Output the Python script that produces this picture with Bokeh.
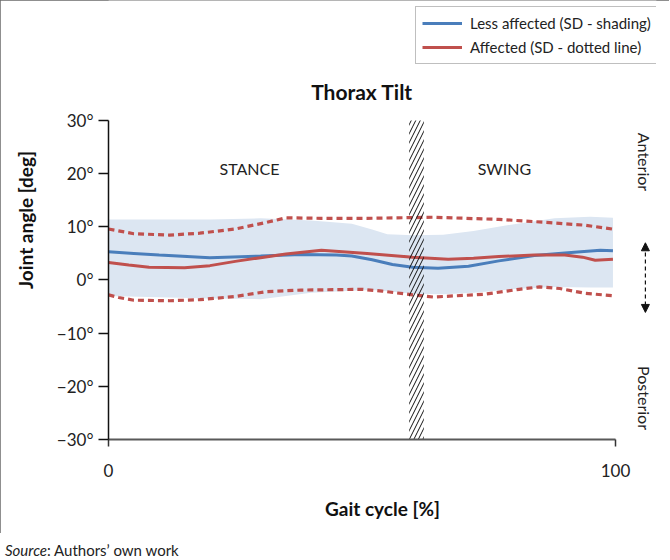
import math
from bokeh.plotting import figure
from bokeh.models import (FixedTicker, Label, Legend, LegendItem, Arrow, NormalHead,
                          Div, Range1d)
from bokeh.layouts import column
from bokeh.embed import file_html
from bokeh.resources import INLINE

# ---------------- data ----------------
# Less affected side: mean curve (blue) and SD shading band
less_x = [0, 5, 10, 20, 30, 38, 45, 48, 52, 56, 60, 65, 71, 77, 84, 90, 97, 99.5]
less_mean = [5.3, 5.0, 4.7, 4.2, 4.5, 4.8, 4.7, 4.5, 3.8, 2.9, 2.4, 2.2, 2.6, 3.6, 4.6, 5.1, 5.6, 5.5]

shade_up_x = [0, 20, 30, 40, 48, 52, 55, 60, 66, 72, 80, 88, 95, 99.5]
shade_up = [11.4, 11.4, 11.6, 11.2, 10.6, 9.5, 8.6, 8.4, 8.5, 9.2, 10.5, 11.6, 11.9, 11.7]
shade_lo = [-3.0, -3.5, -3.6, -2.4, -2.0, -1.9, -2.1, -2.6, -2.7, -2.4, -1.7, -1.3, -1.4, -1.4]

# Affected side: mean curve (red) and SD (dotted lines)
aff_x = [0, 4, 8, 15, 20, 25, 30, 35, 42, 51, 60, 67, 72, 77, 84, 90, 93.5, 96, 99.5]
aff_mean = [3.3, 2.8, 2.4, 2.3, 2.7, 3.5, 4.2, 4.9, 5.6, 5.0, 4.3, 3.9, 4.1, 4.4, 4.7, 4.7, 4.3, 3.7, 3.9]

aff_up_x = [0, 5, 12, 18, 25, 31, 35, 42, 51, 64, 77, 87, 94, 100]
aff_up = [9.6, 8.7, 8.45, 8.8, 9.6, 10.8, 11.7, 11.6, 11.6, 11.8, 11.4, 10.8, 10.3, 9.5]

aff_lo_x = [0, 2, 5, 12, 18, 25, 31, 38, 50, 54, 60, 64, 74, 81, 85, 89, 94, 100]
aff_lo = [-2.8, -3.3, -3.8, -3.9, -3.7, -3.1, -2.2, -1.9, -1.75, -2.1, -2.8, -3.2, -2.7, -1.75, -1.3, -1.6, -2.5, -3.0]

# toe-off band (stance / swing transition)
toe_off_start = [59.3]
toe_off_end = [62.2]

y_ticks = [-30, -20, -10, 0, 10, 20, 30]
y_tick_labels = ["\u221230\u00b0", "\u221220\u00b0", "\u221210\u00b0", "0\u00b0", "10\u00b0", "20\u00b0", "30\u00b0"]
x_ticks = [0, 100]

series_names = ["Less affected (SD - shading)", "Affected (SD - dotted line)"]

# ---------------- style ----------------
BLUE = "#4A7EBB"
RED = "#C0504D"
SHADE = "#DCE6F2"
FONT = "Lato"

# frame: 0..100 % maps to 507 px, -30..30 deg maps to 319 px; the frame is
# extended right/up (axes limited by bounds) so the side texts and legend are drawn
p = figure(width=669, height=533,
           x_range=Range1d(0, 108.09), y_range=Range1d(-30, 52.57),
           output_backend="svg", toolbar_location=None,
           min_border_left=108, min_border_right=13,
           min_border_top=0, min_border_bottom=94)
p.outline_line_color = None
p.xgrid.visible = False
p.ygrid.visible = False
p.background_fill_color = "white"
p.border_fill_color = "white"
p.styles = {"outline": "1px solid #6a6a6a", "outline-offset": "-1px"}

# axes
p.yaxis.bounds = (-30, 30)
p.yaxis.ticker = FixedTicker(ticks=y_ticks)
p.yaxis.major_label_overrides = {t: l for t, l in zip(y_ticks, y_tick_labels)}
p.yaxis.major_tick_out = 10
p.yaxis.major_tick_in = 0
p.yaxis.minor_tick_line_color = None
p.yaxis.axis_line_color = "#111111"
p.yaxis.axis_line_width = 1.5
p.yaxis.major_tick_line_color = "#111111"
p.yaxis.major_tick_line_width = 1.5
p.yaxis.major_label_standoff = 5
p.yaxis.major_label_text_font = FONT
p.yaxis.major_label_text_font_size = "17px"
p.yaxis.major_label_text_color = "#222222"
p.yaxis.axis_label = "Joint angle [deg]"
p.yaxis.axis_label_standoff = 17
p.yaxis.axis_label_text_font = FONT
p.yaxis.axis_label_text_font_size = "19px"
p.yaxis.axis_label_text_font_style = "bold"
p.yaxis.axis_label_text_color = "#111111"

p.xaxis.bounds = (0, 100)
p.xaxis.ticker = FixedTicker(ticks=x_ticks)
p.xaxis.major_tick_out = 7
p.xaxis.major_tick_in = 0
p.xaxis.minor_tick_line_color = None
p.xaxis.axis_line_color = "#595959"
p.xaxis.axis_line_width = 2
p.xaxis.major_tick_line_color = "#333333"
p.xaxis.major_tick_line_width = 1.5
p.xaxis.major_label_standoff = 17
p.xaxis.major_label_text_font = FONT
p.xaxis.major_label_text_font_size = "17px"
p.xaxis.major_label_text_color = "#222222"
p.xaxis.axis_label = "Gait cycle [%]"
p.xaxis.axis_label_standoff = 17
p.xaxis.axis_label_text_font = FONT
p.xaxis.axis_label_text_font_size = "19px"
p.xaxis.axis_label_text_font_style = "bold"
p.xaxis.axis_label_text_color = "#111111"

# SD shading of less affected side
p.varea(x=shade_up_x, y1=shade_lo, y2=shade_up, fill_color=SHADE, fill_alpha=1.0)

# SD dotted lines of affected side
p.line(aff_up_x, aff_up, line_color=RED, line_width=3.2, line_dash="6 4")
p.line(aff_lo_x, aff_lo, line_color=RED, line_width=3.2, line_dash="6 4")

# mean curves
r_blue = p.line(less_x, less_mean, line_color=BLUE, line_width=3)
r_red = p.line(aff_x, aff_mean, line_color=RED, line_width=3)

# toe-off hatched band
p.quad(left=toe_off_start, right=toe_off_end, bottom=[-30], top=[30],
       fill_color=None, line_color=None,
       hatch_pattern="/", hatch_color="#111111", hatch_weight=1, hatch_scale=9)

# texts
txt = dict(text_font=FONT, text_align="center", text_baseline="middle")
p.add_layout(Label(x=50, y=35.5, text="Thorax Tilt", text_font_size="21px",
                   text_font_style="bold", text_color="#111111", **txt))
p.add_layout(Label(x=27.8, y=21, text="STANCE", text_font_size="16px", text_color="#222222", **txt))
p.add_layout(Label(x=78.1, y=21, text="SWING", text_font_size="16px", text_color="#222222", **txt))
p.add_layout(Label(x=105.7, y=22.2, angle=-math.pi / 2, text="Anterior",
                   text_font_size="16px", text_color="#222222", **txt))
p.add_layout(Label(x=105.7, y=-22.2, angle=-math.pi / 2, text="Posterior",
                   text_font_size="16px", text_color="#222222", **txt))

# anterior / posterior double arrow
p.add_layout(Arrow(x_start=105.9, y_start=-6.1, x_end=105.9, y_end=7.0,
                   line_color="#111111", line_width=1.2, line_dash="4 3",
                   start=NormalHead(size=8, fill_color="#111111", line_color="#111111"),
                   end=NormalHead(size=8, fill_color="#111111", line_color="#111111")))

# legend (bottom-left corner given relative to the frame's bottom-left)
legend = Legend(items=[LegendItem(label=series_names[0], renderers=[r_blue]),
                       LegendItem(label=series_names[1], renderers=[r_red])],
                location=(307, 375), orientation="vertical",
                border_line_color="#7f7f7f", border_line_width=1,
                background_fill_color="white", background_fill_alpha=1,
                padding=6, spacing=4, margin=0,
                glyph_width=40, glyph_height=20, label_height=20,
                label_standoff=8, label_text_font=FONT, label_text_font_size="15px",
                label_text_color="#222222")
p.add_layout(legend, "center")

src = Div(text='<div style="margin-top:3px; line-height:18px"><i>Source</i>: Authors\u2019 own work</div>',
          width=300, height=26,
          styles={"font-family": "Lato", "font-size": "15px", "color": "#222222"})

layout = column(p, src, spacing=0)
open("out.html", "w").write(file_html(layout, INLINE))
